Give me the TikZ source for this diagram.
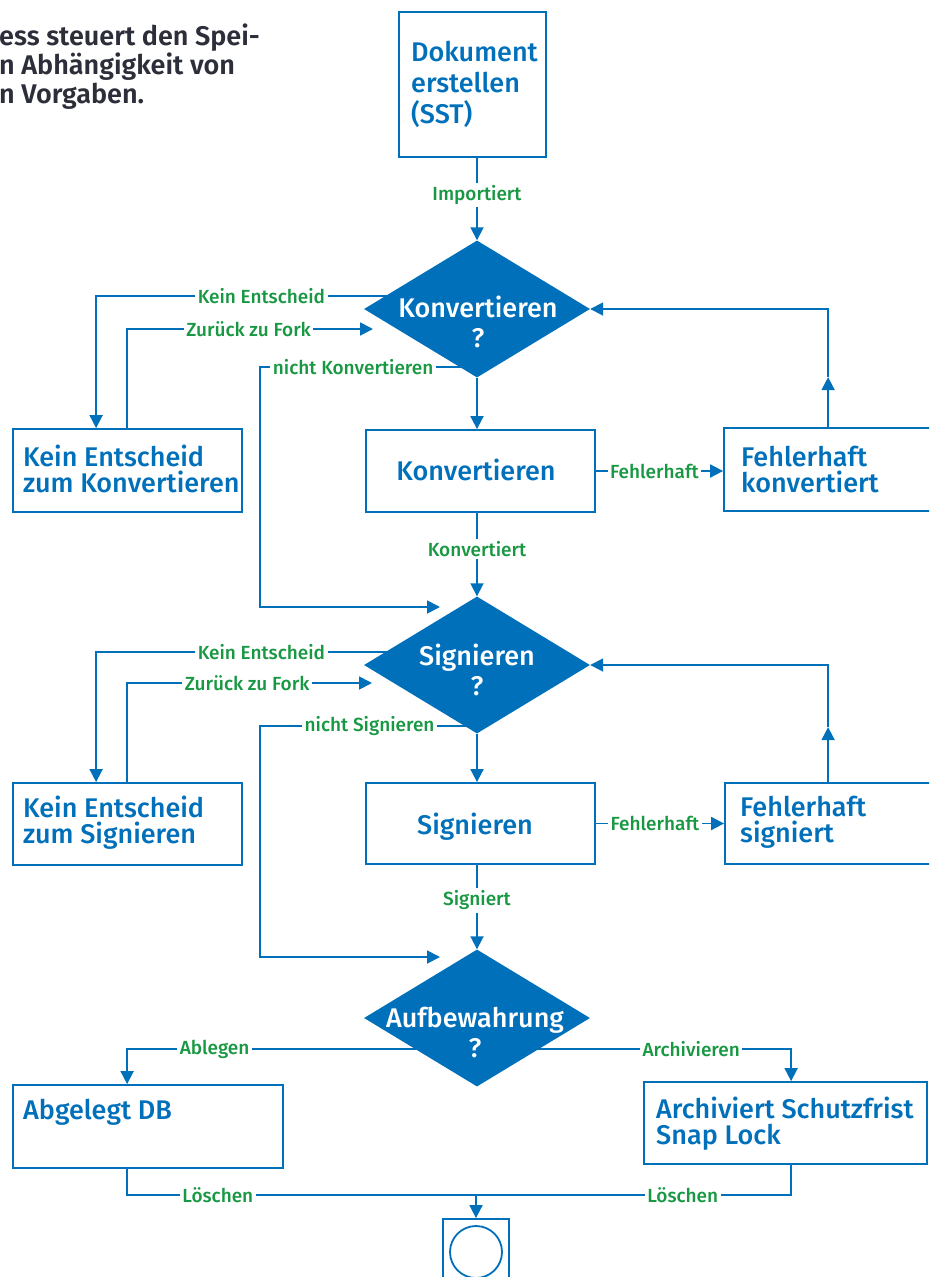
\documentclass[tikz,border=0pt]{standalone}
\usepackage{fontspec}
\setmainfont{Fira Sans}[UprightFont={* Medium},BoldFont={* SemiBold}]
\usetikzlibrary{arrows.meta,shapes.geometric,calc}
\definecolor{flowblue}{RGB}{0,112,186}
\definecolor{flowgreen}{RGB}{24,152,66}
\definecolor{textdark}{RGB}{44,46,58}
\pgfdeclarelayer{background}
\pgfsetlayers{background,main}
\newcommand{\boxfont}{\fontsize{27}{26}\selectfont}
\newcommand{\lblfont}{\fontsize{19}{20}\selectfont}

\begin{document}
\begin{tikzpicture}[x=1pt,y=-1pt,
  box/.style={draw=flowblue, line width=1.8pt, fill=white, rectangle, inner sep=0pt},
  boxtext/.style={text=flowblue, font=\boxfont, align=left, inner sep=0pt},
  decision/.style={diamond, fill=flowblue, draw=none, inner sep=0pt,
                   minimum width=226pt, minimum height=137pt},
  dtext/.style={text=white, font=\fontsize{27}{30}\selectfont, align=center, inner sep=0pt},
  conn/.style={draw=flowblue, line width=1.8pt},
  arr/.style={conn, -{Triangle[length=13pt,width=13pt]}},
  lbl/.style={text=flowgreen, font=\lblfont, fill=white, inner sep=2.5pt}
]
\path[use as bounding box] (0,0) rectangle (929,1277);
\clip (0,0) rectangle (929,1277);

% intro paragraph
\node[anchor=west, text=textdark, font=\fontsize{27}{29}\selectfont\bfseries,
      align=left, inner sep=0pt] (intro) at (-1,67)
  {ess steuert den Spei-\\n Abhängigkeit von\\n Vorgaben.};

% start box
\node[box, minimum width=147pt, minimum height=145pt] (sst) at (472.5,84.5) {};
\node[boxtext, anchor=west, font=\fontsize{27}{31}\selectfont] (sstt) at (411,84.5)
  {Dokument\\erstellen\\(SST)};

% --- convert stage
\node[decision] (d1) at (477,309) {};
\node[dtext] (d1t) at (478,322) {Konvertieren\\?};
\node[box, minimum width=229pt, minimum height=82pt] (kv) at (480.5,471) {};
\node[boxtext, anchor=base] (kvt) at (476,480) {Konvertieren};
\node[box, minimum width=229pt, minimum height=83pt] (ke1) at (127.5,470.5) {};
\node[boxtext, anchor=west] (ke1t) at (23,469) {Kein Entscheid\\zum Konvertieren};
\node[box, minimum width=229pt, minimum height=83pt] (fk) at (838.5,469.5) {};
\node[boxtext, anchor=west] (fkt) at (741,470) {Fehlerhaft\\konvertiert};

% --- sign stage
\node[decision] (d2) at (477,665) {};
\node[dtext] (d2t) at (477,670) {Signieren\\?};
\node[box, minimum width=229pt, minimum height=81pt] (sg) at (480.5,823.5) {};
\node[boxtext, anchor=base] (sgt) at (475,834) {Signieren};
\node[box, minimum width=229pt, minimum height=82pt] (ke2) at (127.5,824) {};
\node[boxtext, anchor=west] (ke2t) at (23,822.5) {Kein Entscheid\\zum Signieren};
\node[box, minimum width=229pt, minimum height=81pt] (fs) at (839.5,823.5) {};
\node[boxtext, anchor=west] (fst) at (740,822.5) {Fehlerhaft\\signiert};

% --- storage stage
\node[decision] (d3) at (477,1018) {};
\node[dtext] (d3t) at (475,1032) {Aufbewahrung\\?};
\node[box, minimum width=270pt, minimum height=83pt] (abg) at (148,1126.5) {};
\node[boxtext, anchor=base west] (abgt) at (23,1119) {Abgelegt DB};
\node[box, minimum width=283pt, minimum height=82pt] (arc) at (785.5,1123) {};
\node[boxtext, anchor=west] (arct) at (656,1124) {Archiviert Schutzfrist\\Snap Lock};

% end state
\node[box, minimum width=66pt, minimum height=82pt] (endb) at (476,1260) {};
\node[circle, draw=flowblue, line width=1.8pt, minimum size=52pt, inner sep=0pt] (endc) at (476,1252) {};

% free ends of the "back to fork" and skip arrows
\coordinate (f1) at ($(d1.center)+(-104,20)$);
\coordinate (f2) at ($(d2.center)+(-105,18)$);
\coordinate (r1) at ($(d2.center)+(-37,-58)$);
\coordinate (r2) at ($(d3.center)+(-37,-61)$);

\begin{pgfonlayer}{background}
  \draw[arr] (sst.south -| d1.north) -- node[lbl,pos=0.45]{Importiert} (d1.north);

  % convert stage
  \draw[arr] ($(d1.center)+(0,-13)$) -| node[lbl,pos=0.283]{Kein Entscheid} ($(ke1.north west)+(84,0)$);
  \draw[arr] ($(ke1.north west)+(115,0)$) |- node[lbl,pos=0.747]{Zurück zu Fork} (f1);
  \draw[arr] ($(d1.center)+(0,58)$) -- node[lbl,pos=0.571]{nicht Konvertieren} ++(-217,0) |- (r1);
  \draw[arr] (d1.south) -- (d1.south |- kv.north);
  \draw[arr] (kv.east) -- node[lbl,pos=0.46]{Fehlerhaft} (kv.east -| fk.west);
  \draw[arr] ($(fk.north west)+(105,0)$) -- ++(0,-50) coordinate (m1);
  \draw[arr] (m1) |- (d1.east);
  \draw[arr] (kv.south -| d2.north) -- node[lbl,pos=0.43]{Konvertiert} (d2.north);

  % sign stage
  \draw[arr] ($(d2.center)+(0,-13)$) -| node[lbl,pos=0.283]{Kein Entscheid} ($(ke2.north west)+(84,0)$);
  \draw[arr] ($(ke2.north west)+(115,0)$) |- node[lbl,pos=0.745]{Zurück zu Fork} (f2);
  \draw[arr] ($(d2.center)+(0,61)$) -- node[lbl,pos=0.495]{nicht Signieren} ++(-217,0) |- (r2);
  \draw[arr] (d2.south) -- (d2.south |- sg.north);
  \draw[arr] (sg.east) -- node[lbl,pos=0.46]{Fehlerhaft} (sg.east -| fs.west);
  \draw[arr] ($(fs.north west)+(104,0)$) -- ++(0,-55) coordinate (m2);
  \draw[arr] (m2) |- (d2.east);
  \draw[arr] (sg.south -| d3.north) -- node[lbl,pos=0.42]{Signiert} (d3.north);

  % storage stage
  \draw[arr] ($(d3.center)+(0,31)$) -| node[lbl,pos=0.375]{Ablegen} ($(abg.north west)+(115,0)$);
  \draw[arr] ($(d3.center)+(0,31)$) -| node[lbl,pos=0.341]{Archivieren} ($(arc.north west)+(148,0)$);
  \draw[arr] ($(abg.south west)+(115,0)$) |- node[lbl,pos=0.63]{Löschen} ($(endb.north)+(0,-23)$) -- (endb.north);
  \draw[conn] ($(arc.south west)+(148,0)$) |- node[lbl,pos=0.672]{Löschen} ($(endb.north)+(0,-23)$);
\end{pgfonlayer}
\end{tikzpicture}
\end{document}
